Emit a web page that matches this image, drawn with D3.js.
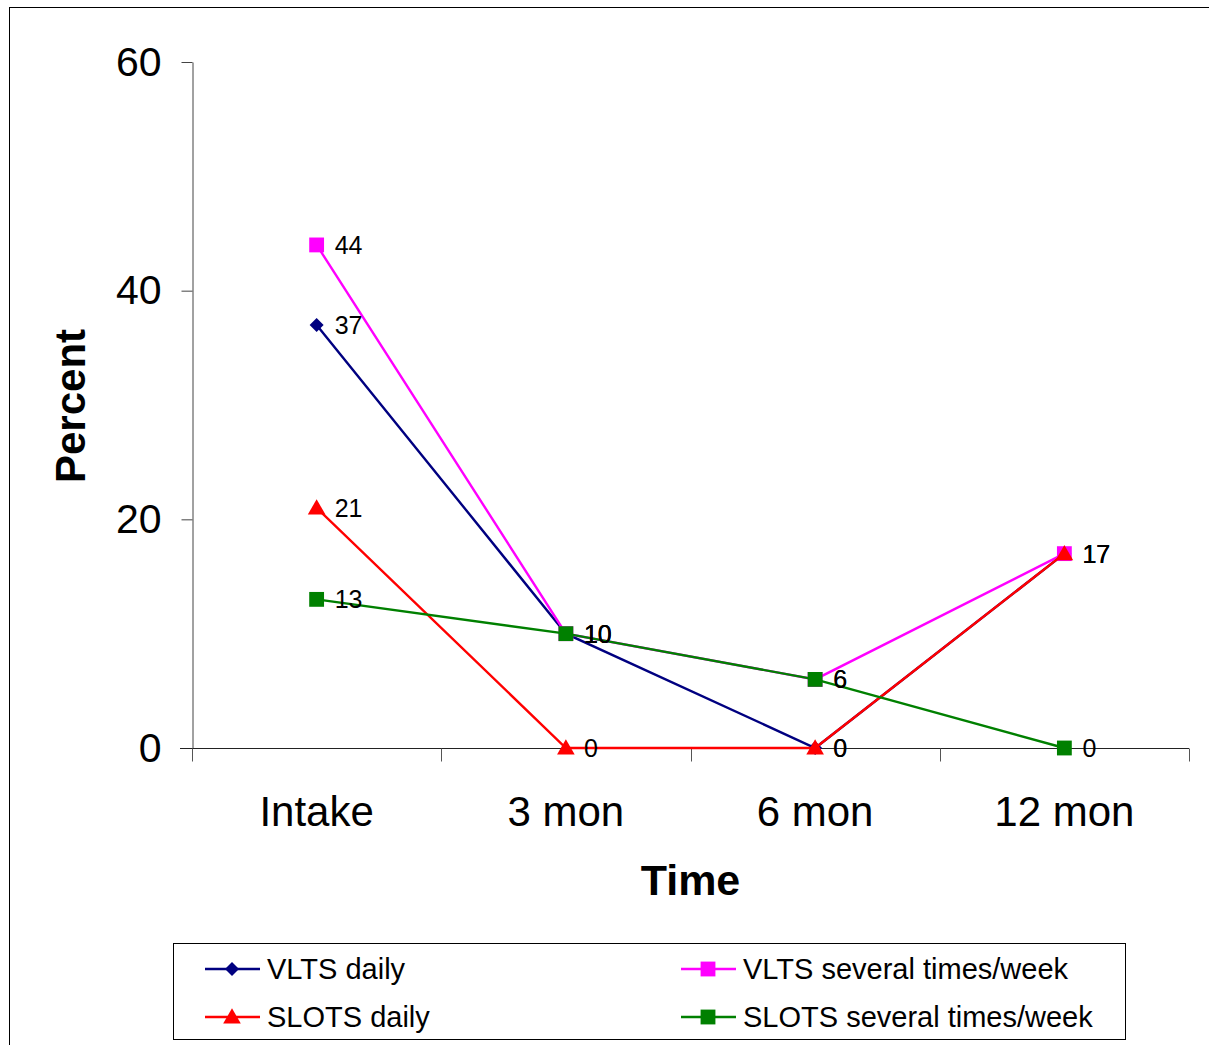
<!DOCTYPE html>
<html>
<head>
<meta charset="utf-8">
<script src="https://cdn.jsdelivr.net/npm/d3@7"></script>
<style>
  html, body { margin: 0; padding: 0; background: #fff; }
  svg { display: block; font-family: "Liberation Sans", Arial, sans-serif; }
</style>
</head>
<body>
<svg id="chart" width="1209" height="1045"></svg>
<script>
// Time points and series (percent)
const categories = ["Intake", "3 mon", "6 mon", "12 mon"];
const vltsDaily = [37, 10, 0, 17];
const vltsWeekly = [44, 10, 6, 17];
const slotsDaily = [21, 0, 0, 17];
const slotsWeekly = [13, 10, 6, 0];
const yTicks = [0, 20, 40, 60];

const series = [
  { name: "VLTS daily", values: vltsDaily, color: "#000080", symbol: "diamond" },
  { name: "VLTS several times/week", values: vltsWeekly, color: "#FF00FF", symbol: "square" },
  { name: "SLOTS daily", values: slotsDaily, color: "#FF0000", symbol: "triangle" },
  { name: "SLOTS several times/week", values: slotsWeekly, color: "#008000", symbol: "square" }
];

const svg = d3.select("#chart");

// outer frame
svg.append("rect").attr("x", 9.5).attr("y", 7.5).attr("width", 1220).attr("height", 1060)
  .attr("fill", "none").attr("stroke", "#000").attr("stroke-width", 1);

const plot = { left: 192, right: 1189, top: 62, bottom: 748 };

const x = d3.scaleBand().domain(categories).range([plot.left, plot.right]);
const y = d3.scaleLinear().domain([0, 60]).range([plot.bottom, plot.top]);
const cx = c => x(c) + x.bandwidth() / 2;

// y axis
const yAxis = svg.append("g").attr("transform", `translate(${plot.left + 0.5},0)`)
  .call(d3.axisLeft(y).tickValues(yTicks).tickSize(11).tickPadding(20).tickSizeOuter(0));
yAxis.select(".domain").attr("stroke", "#444").attr("stroke-width", 1);
yAxis.selectAll(".tick line").attr("stroke", "#444");
yAxis.selectAll(".tick text").attr("font-size", 41).attr("fill", "#000")
  .attr("font-family", "Liberation Sans, Arial, sans-serif");

// x axis baseline with boundary ticks between categories
const xAxisG = svg.append("g").attr("transform", `translate(0,${plot.bottom + 0.5})`);
xAxisG.append("line").attr("x1", plot.left - 12).attr("x2", plot.right)
  .attr("stroke", "#222").attr("stroke-width", 1);
const boundaries = categories.map(c => x(c)).concat([plot.right]);
xAxisG.selectAll("line.tick").data(boundaries).join("line").attr("class", "tick")
  .attr("x1", d => Math.round(d) + 0.5).attr("x2", d => Math.round(d) + 0.5)
  .attr("y1", 0).attr("y2", 13).attr("stroke", "#555");
xAxisG.selectAll("text").data(categories).join("text")
  .attr("x", d => cx(d)).attr("y", 77).attr("text-anchor", "middle")
  .attr("font-size", 42).attr("fill", "#000").text(d => d);

// axis titles
svg.append("text").attr("x", (plot.left + plot.right) / 2).attr("y", 895)
  .attr("text-anchor", "middle").attr("font-size", 43).attr("font-weight", "bold").text("Time");
svg.append("text").attr("transform", `translate(85,${(plot.top + plot.bottom) / 2 + 1}) rotate(-90)`)
  .attr("text-anchor", "middle").attr("font-size", 42).attr("font-weight", "bold").text("Percent");

// symbols
function symbolPath(type) {
  if (type === "diamond") return d3.symbol().type(d3.symbolDiamond2).size(125)();
  if (type === "triangle") return d3.symbol().type(d3.symbolTriangle).size(135)();
  return d3.symbol().type(d3.symbolSquare).size(220)();
}

const line = d3.line().x((d, i) => cx(categories[i])).y(d => y(d));

series.forEach(s => {
  const g = svg.append("g");
  g.append("path").datum(s.values).attr("d", line)
    .attr("fill", "none").attr("stroke", s.color).attr("stroke-width", 2.4);
  g.selectAll("path.mark").data(s.values).join("path").attr("class", "mark")
    .attr("transform", (d, i) => `translate(${cx(categories[i])},${y(d) + (s.symbol === "triangle" ? 1.5 : 0)})`)
    .attr("d", symbolPath(s.symbol)).attr("fill", s.color);
});

// value labels
series.forEach(s => {
  svg.append("g").selectAll("text").data(s.values).join("text")
    .attr("x", (d, i) => cx(categories[i]) + 18)
    .attr("y", d => y(d) + 9)
    .attr("font-size", 25).attr("fill", "#000").text(d => d);
});

// legend
const legend = svg.append("g");
legend.append("rect").attr("x", 173.5).attr("y", 943.5).attr("width", 952).attr("height", 96)
  .attr("fill", "#fff").attr("stroke", "#000").attr("stroke-width", 1);
const legendPos = [
  { x: 205, y: 969 }, { x: 681, y: 969 },
  { x: 205, y: 1017 }, { x: 681, y: 1017 }
];
series.forEach((s, i) => {
  const p = legendPos[i];
  legend.append("line").attr("x1", p.x).attr("x2", p.x + 55).attr("y1", p.y).attr("y2", p.y)
    .attr("stroke", s.color).attr("stroke-width", 2.4);
  legend.append("path").attr("transform", `translate(${p.x + 27},${p.y + (s.symbol === "triangle" ? 1.5 : 0)})`)
    .attr("d", symbolPath(s.symbol)).attr("fill", s.color);
  legend.append("text").attr("x", p.x + 62).attr("y", p.y + 10)
    .attr("font-size", 29).attr("fill", "#000").text(s.name);
});
</script>
</body>
</html>
